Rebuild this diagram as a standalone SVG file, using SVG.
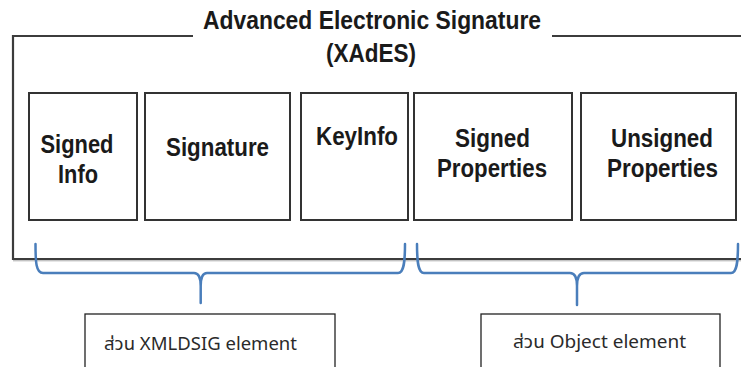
<svg xmlns="http://www.w3.org/2000/svg" width="741" height="367" viewBox="0 0 741 367">
<style>
.frame{fill:none;stroke:#3c3c3c;stroke-width:2.2}
.box{fill:#fff;stroke:#333;stroke-width:2}
.t{font-family:"Liberation Sans Narrow","Liberation Sans",Arial,sans-serif;font-weight:bold;fill:#1a1a1a;text-anchor:middle}
.tt{font-size:25px}
.bt{font-size:26px}
.br{fill:none;stroke:#4a7ebb;stroke-width:2.5;stroke-linecap:round;stroke-linejoin:round}
.lbox{fill:#fff;stroke:#222;stroke-width:1.3}
.lt{font-family:"Noto Sans","Noto Sans Thai","Leelawadee UI","DejaVu Sans",sans-serif;font-size:18px;fill:#2a2a2a}
</style>
<rect width="741" height="367" fill="#fff"/>
<g id="frame">
<path class="frame" d="M193,36 H13 V259 H741"/>
<path class="frame" d="M552,36 H741"/>
<line x1="13" y1="260.8" x2="741" y2="260.8" stroke="#aaa" stroke-width="1"/>
<text class="t tt" x="372" y="29" textLength="338" lengthAdjust="spacingAndGlyphs">Advanced Electronic Signature</text>
<text class="t tt" x="371" y="62" textLength="90" lengthAdjust="spacingAndGlyphs">(XAdES)</text>
</g>
<g id="signed-info">
<rect class="box" x="29" y="93" width="108" height="127"/>
<text class="t bt" x="77" y="153" textLength="73" lengthAdjust="spacingAndGlyphs">Signed</text>
<text class="t bt" x="78" y="183" textLength="40" lengthAdjust="spacingAndGlyphs">Info</text>
</g>
<g id="signature">
<rect class="box" x="145" y="93" width="145" height="127"/>
<text class="t bt" x="217.5" y="156" textLength="103" lengthAdjust="spacingAndGlyphs">Signature</text>
</g>
<g id="keyinfo">
<rect class="box" x="301" y="93" width="107" height="127"/>
<text class="t bt" x="357" y="145" textLength="82" lengthAdjust="spacingAndGlyphs">KeyInfo</text>
</g>
<g id="signed-properties">
<rect class="box" x="414" y="93" width="158" height="127"/>
<text class="t bt" x="492.5" y="147" textLength="75" lengthAdjust="spacingAndGlyphs">Signed</text>
<text class="t bt" x="492" y="177" textLength="110" lengthAdjust="spacingAndGlyphs">Properties</text>
</g>
<g id="unsigned-properties">
<rect class="box" x="581" y="93" width="155" height="127"/>
<text class="t bt" x="662" y="147" textLength="102" lengthAdjust="spacingAndGlyphs">Unsigned</text>
<text class="t bt" x="662.5" y="177" textLength="111" lengthAdjust="spacingAndGlyphs">Properties</text>
</g>
<g id="connectors">
<path class="br" d="M35.5,244 C35.5,262 36,273 43,273 L194,273 Q200.7,273 200.7,286 L200.7,303 M200.7,286 Q200.7,273 207,273 L398,273 C404,273 405,262 405,244"/>
<path class="br" d="M417,244 C417,262 418,273 424,273 L570,273 Q577,273 577,286 L577,305 M577,286 Q577,273 584,273 L731,273 C737,273 738,262 738,244"/>
</g>
<g id="xmldsig-part">
<rect class="lbox" x="85" y="314" width="250" height="60"/>
<text class="lt" x="104" y="350" textLength="193" lengthAdjust="spacingAndGlyphs">ส่วน XMLDSIG element</text>
</g>
<g id="object-part">
<rect class="lbox" x="481" y="314" width="239" height="60"/>
<text class="lt" x="513" y="348" textLength="173" lengthAdjust="spacingAndGlyphs">ส่วน Object element</text>
</g>
</svg>
